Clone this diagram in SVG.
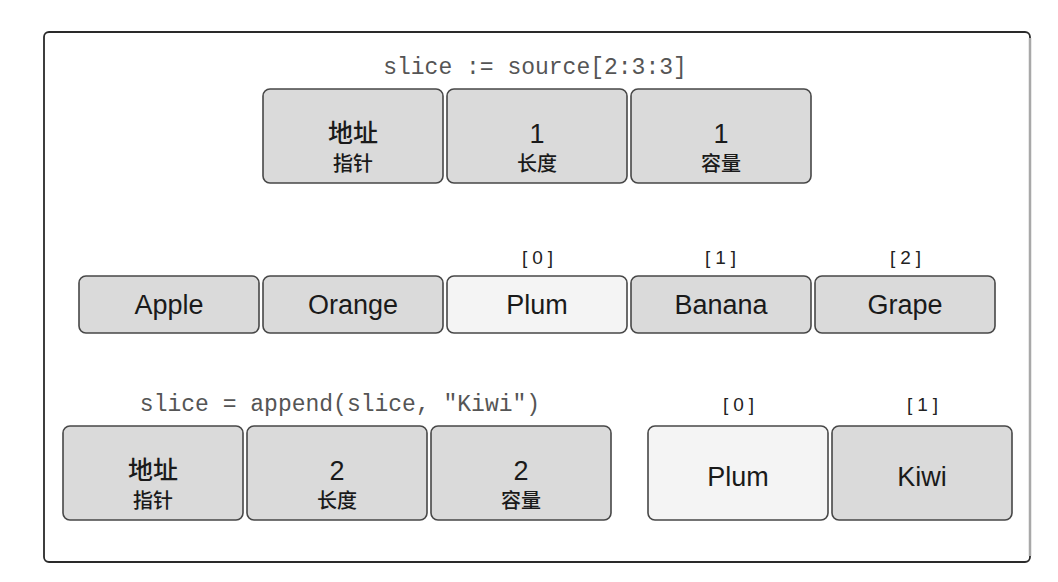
<svg xmlns="http://www.w3.org/2000/svg" width="1058" height="582" viewBox="0 0 1058 582">
<style>
.box{fill:#dadada;stroke:#474747;stroke-width:1.6}
.lite{fill:#f4f4f4;stroke:#474747;stroke-width:1.6}
.code{font-family:"Liberation Mono","DejaVu Sans Mono",monospace;font-size:23px;fill:#555;text-anchor:middle}
.big{font-family:"Liberation Sans","Noto Sans CJK SC",sans-serif;font-size:27px;fill:#1a1a1a;text-anchor:middle}
.zh1{font-family:"Noto Sans CJK SC",sans-serif;font-size:25px;font-weight:500;fill:#1a1a1a;text-anchor:middle}
.zh2{font-family:"Noto Sans CJK SC",sans-serif;font-size:20px;font-weight:500;fill:#1a1a1a;text-anchor:middle}
.idx{font-family:"Liberation Sans",sans-serif;font-size:19px;fill:#222;text-anchor:middle;letter-spacing:5px}
</style>
<rect width="1058" height="582" fill="#fff"/>
<g id="frame">
<rect x="44" y="32" width="986" height="530" rx="5" fill="#fff" stroke="#2a2a2a" stroke-width="1.8"/>
<line x1="1030" y1="38" x2="1030" y2="556" stroke="#a8a8a8" stroke-width="2.5"/>
</g>
<text class="code" x="535" y="74">slice := source[2:3:3]</text>
<g id="top-ptr"><rect class="box" x="263" y="89" width="180" height="94" rx="7"/><text class="zh1" x="353" y="142">地址</text><text class="zh2" x="353" y="171">指针</text></g>
<g id="top-len"><rect class="box" x="447" y="89" width="180" height="94" rx="7"/><text class="big" x="537" y="143">1</text><text class="zh2" x="537" y="171">长度</text></g>
<g id="top-cap"><rect class="box" x="631" y="89" width="180" height="94" rx="7"/><text class="big" x="721" y="143">1</text><text class="zh2" x="721" y="171">容量</text></g>
<text class="idx" x="540" y="264">[0]</text>
<text class="idx" x="723" y="264">[1]</text>
<text class="idx" x="908" y="264">[2]</text>
<g id="arr-apple"><rect class="box" x="79" y="276" width="180" height="57" rx="7"/><text class="big" x="169" y="314">Apple</text></g>
<g id="arr-orange"><rect class="box" x="263" y="276" width="180" height="57" rx="7"/><text class="big" x="353" y="314">Orange</text></g>
<g id="arr-plum"><rect class="lite" x="447" y="276" width="180" height="57" rx="7"/><text class="big" x="537" y="314">Plum</text></g>
<g id="arr-banana"><rect class="box" x="631" y="276" width="180" height="57" rx="7"/><text class="big" x="721" y="314">Banana</text></g>
<g id="arr-grape"><rect class="box" x="815" y="276" width="180" height="57" rx="7"/><text class="big" x="905" y="314">Grape</text></g>
<text class="code" x="340" y="411">slice = append(slice, "Kiwi")</text>
<text class="idx" x="741" y="411">[0]</text>
<text class="idx" x="925" y="411">[1]</text>
<g id="bot-ptr"><rect class="box" x="63" y="426" width="180" height="94" rx="7"/><text class="zh1" x="153" y="479">地址</text><text class="zh2" x="153" y="508">指针</text></g>
<g id="bot-len"><rect class="box" x="247" y="426" width="180" height="94" rx="7"/><text class="big" x="337" y="480">2</text><text class="zh2" x="337" y="508">长度</text></g>
<g id="bot-cap"><rect class="box" x="431" y="426" width="180" height="94" rx="7"/><text class="big" x="521" y="480">2</text><text class="zh2" x="521" y="508">容量</text></g>
<g id="new-plum"><rect class="lite" x="648" y="426" width="180" height="94" rx="7"/><text class="big" x="738" y="486">Plum</text></g>
<g id="new-kiwi"><rect class="box" x="832" y="426" width="180" height="94" rx="7"/><text class="big" x="922" y="486">Kiwi</text></g>
<g id="connectors"/>
</svg>
